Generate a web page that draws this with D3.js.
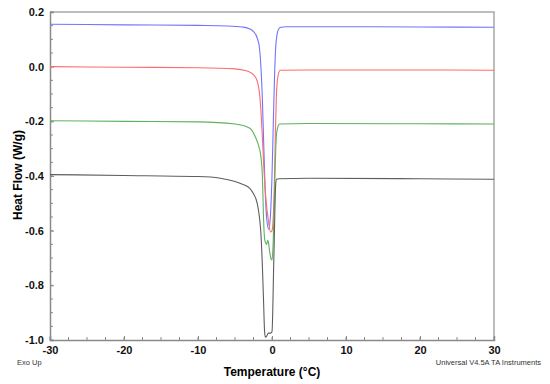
<!DOCTYPE html>
<html>
<head>
<meta charset="utf-8">
<script src="https://cdn.jsdelivr.net/npm/d3@7"></script>
<style>
  body { margin: 0; background: #fff; }
  svg { display: block; font-family: "Liberation Sans", Arial, sans-serif; }
</style>
</head>
<body>
<figure style="margin:0"></figure>
<script>
// DSC heat flow traces, [temperature °C, heat flow W/g]
const blueRun = [[-30,0.155],[-20,0.153],[-10,0.151],[-6,0.149],[-4,0.145],[-3,0.138],[-2.5,0.128],[-2,0.105],[-1.7,0.07],[-1.5,0.0],
  [-1.3,-0.12],[-1.1,-0.3],[-0.9,-0.47],[-0.7,-0.56],[-0.45,-0.595],[-0.25,-0.56],[0.0,-0.4],[0.2,-0.18],[0.35,-0.03],[0.5,0.07],
  [0.7,0.12],[0.9,0.138],[1.2,0.144],[2,0.146],[10,0.146],[20,0.145],[30,0.144]];
const redRun = [[-30,0.0],[-20,-0.002],[-10,-0.004],[-5,-0.008],[-3.5,-0.015],[-3,-0.02],[-2.2,-0.04],[-1.75,-0.085],[-1.5,-0.16],
  [-1.3,-0.26],[-1.1,-0.37],[-0.8,-0.49],[-0.5,-0.56],[-0.2,-0.605],[0.0,-0.6],[0.15,-0.56],[0.3,-0.45],[0.45,-0.25],[0.6,-0.1],
  [0.8,-0.035],[1.1,-0.013],[5,-0.012],[20,-0.012],[30,-0.013]];
const greenRun = [[-30,-0.198],[-20,-0.2],[-10,-0.202],[-5,-0.21],[-3,-0.225],[-2.2,-0.26],[-1.8,-0.29],[-1.5,-0.33],[-1.3,-0.4],
  [-1.15,-0.55],[-1.0,-0.63],[-0.85,-0.645],[-0.7,-0.65],[-0.6,-0.635],[-0.5,-0.64],[-0.3,-0.68],[-0.1,-0.705],[0.0,-0.707],
  [0.15,-0.65],[0.3,-0.5],[0.45,-0.35],[0.6,-0.25],[0.8,-0.22],[1.0,-0.21],[5,-0.208],[20,-0.209],[30,-0.21]];
const blackRun = [[-30,-0.395],[-20,-0.398],[-10,-0.402],[-7,-0.408],[-5,-0.42],[-4,-0.43],[-3,-0.445],[-2.5,-0.465],[-2,-0.5],
  [-1.7,-0.55],[-1.5,-0.61],[-1.3,-0.73],[-1.15,-0.85],[-1.0,-0.97],[-0.9,-0.99],[-0.7,-0.985],[-0.5,-0.975],[-0.2,-0.975],
  [0.0,-0.97],[0.25,-0.7],[0.5,-0.43],[0.6,-0.412],[1,-0.41],[5,-0.408],[20,-0.41],[30,-0.412]];

const runs = [blueRun, redRun, greenRun, blackRun];
const runColors = ["#7373ff", "#ff6b6b", "#5fb25f", "#5e5e5e"];

const xTicks = [-30, -20, -10, 0, 10, 20, 30];
const yTicks = [0.2, 0.0, -0.2, -0.4, -0.6, -0.8, -1.0];

function buildChart() {
  const width = 550, height = 384;
  const left = 50, right = 494, top = 12, bottom = 340;

  const svg = d3.select("figure").append("svg")
    .attr("width", width).attr("height", height);

  const x = d3.scaleLinear().domain([-30, 30]).range([left, right]);
  const y = d3.scaleLinear().domain([-1.0, 0.2]).range([bottom, top]);

  // frame on top and right
  svg.append("path")
    .attr("d", `M${left},${top}H${right}V${bottom}`)
    .attr("fill", "none").attr("stroke", "#a8a8a8").attr("stroke-width", 1.5);

  // minor ticks (inside)
  const axisColor = "#8a8a8a";
  svg.append("g").selectAll("line")
    .data(d3.range(-30, 30.01, 2.5))
    .join("line")
    .attr("x1", d => x(d)).attr("x2", d => x(d))
    .attr("y1", bottom).attr("y2", bottom - 3)
    .attr("stroke", axisColor);
  svg.append("g").selectAll("line")
    .data(d3.range(-1.0, 0.201, 0.05))
    .join("line")
    .attr("y1", d => y(d)).attr("y2", d => y(d))
    .attr("x1", left).attr("x2", left + 3)
    .attr("stroke", axisColor);

  // plain hyphen minus like the instrument software prints
  const fmtX = d => d3.format("d")(d).replace("\u2212", "-");
  const fmtY = d => d3.format(".1f")(d).replace("\u2212", "-");

  const xAxis = svg.append("g")
    .attr("transform", `translate(0,${bottom})`)
    .call(d3.axisBottom(x).tickValues(xTicks).tickSize(-4).tickPadding(7).tickFormat(fmtX));
  const yAxis = svg.append("g")
    .attr("transform", `translate(${left},0)`)
    .call(d3.axisLeft(y).tickValues(yTicks).tickSize(-4).tickPadding(6).tickFormat(fmtY));

  [xAxis, yAxis].forEach(a => {
    a.select(".domain").attr("stroke", axisColor).attr("stroke-width", 1.5);
    a.selectAll(".tick line").attr("stroke", axisColor);
    a.selectAll("text")
      .attr("font-family", "Liberation Sans, Arial, sans-serif")
      .attr("font-size", 11).attr("font-weight", "bold").attr("fill", "#111");
  });
  xAxis.selectAll("text").attr("dy", "0.6em");

  const line = d3.line()
    .x(d => x(d[0]))
    .y(d => y(d[1]))
    .curve(d3.curveMonotoneX);

  svg.append("g").selectAll("path")
    .data(runs)
    .join("path")
    .attr("d", line)
    .attr("fill", "none")
    .attr("stroke", (d, i) => runColors[i])
    .attr("stroke-width", 1.1);

  svg.append("text")
    .attr("x", 272).attr("y", 376)
    .attr("text-anchor", "middle")
    .attr("font-size", 12).attr("font-weight", "bold")
    .text("Temperature (°C)");

  svg.append("text")
    .attr("transform", "translate(22,175) rotate(-90)")
    .attr("text-anchor", "middle")
    .attr("font-size", 12).attr("font-weight", "bold")
    .text("Heat Flow (W/g)");

  svg.append("text")
    .attr("x", 17).attr("y", 365)
    .attr("font-size", 7.5).attr("fill", "#333")
    .text("Exo Up");

  svg.append("text")
    .attr("x", 541).attr("y", 365)
    .attr("text-anchor", "end")
    .attr("font-size", 7.5).attr("fill", "#333")
    .text("Universal V4.5A TA Instruments");
}

buildChart();
</script>
</body>
</html>
